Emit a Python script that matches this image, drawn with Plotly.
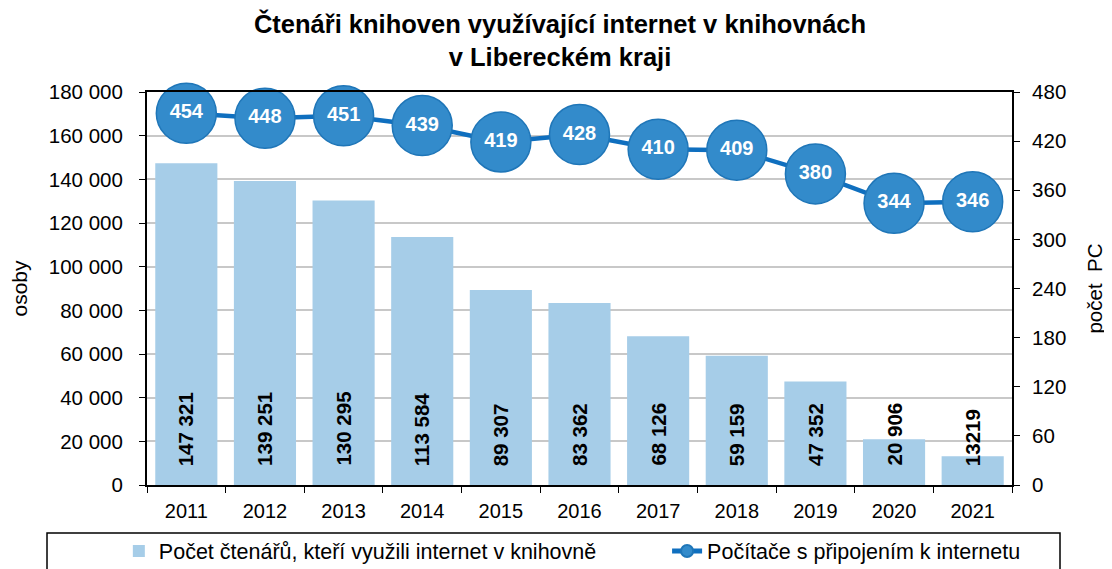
import plotly.graph_objects as go

years = ['2011', '2012', '2013', '2014', '2015', '2016', '2017', '2018', '2019', '2020', '2021']
readers = [147321, 139251, 130295, 113584, 89307, 83362, 68126, 59159, 47352, 20906, 13219]
reader_labels = ['147 321', '139 251', '130 295', '113 584', '89 307', '83 362',
                 '68 126', '59 159', '47 352', '20 906', '13219']
pcs = [454, 448, 451, 439, 419, 428, 410, 409, 380, 344, 346]

font_family = 'Liberation Sans, Arial, sans-serif'
xpos = list(range(len(years)))

fig = go.Figure()

fig.add_trace(go.Bar(
    x=xpos,
    y=readers,
    name='Počet čtenářů, kteří využili internet v knihovně',
    marker=dict(color='#a6cde8', line=dict(width=0)),
    width=0.79,
    yaxis='y',
    legend='legend',
))

fig.add_trace(go.Scatter(
    x=xpos,
    y=pcs,
    name='Počítače s připojením k internetu',
    mode='lines+markers+text',
    line=dict(color='#0f6fbf', width=4.5),
    marker=dict(size=60, color='#338bcb', line=dict(color='#1f76b8', width=1.5)),
    text=[str(v) for v in pcs],
    textposition='middle center',
    textfont=dict(color='white', size=20, family=font_family, weight='bold'),
    yaxis='y2',
    cliponaxis=False,
    legend='legend2',
))

# value labels at the bottom of each bar, rotated
for i, lab in zip(xpos, reader_labels):
    fig.add_annotation(
        x=i, y=7800, xref='x', yref='y',
        text='<b>' + lab + '</b>',
        textangle=-90,
        showarrow=False,
        yanchor='bottom',
        font=dict(size=20.5, color='black', family=font_family),
    )

# legend frame
fig.add_shape(type='rect', xref='paper', yref='paper',
              x0=-0.1156, x1=1.0555, y0=-0.122, y1=-0.24,
              line=dict(color='black', width=1.5), fillcolor='rgba(0,0,0,0)')

fig.update_layout(
    width=1104,
    height=561,
    margin=dict(l=139, r=100, t=84, b=84),
    paper_bgcolor='white',
    plot_bgcolor='white',
    separators=', ',
    font=dict(family=font_family, size=20, color='black'),
    title=dict(
        text='<b>Čtenáři knihoven využívající internet v knihovnách<br>v Libereckém kraji</b>',
        x=0.5, xanchor='center', xref='container',
        y=0.955, yanchor='middle', yref='container',
        font=dict(size=25.5),
    ),
    showlegend=True,
    legend=dict(
        orientation='h',
        x=0.1004, xanchor='left', xref='container',
        y=0.032, yanchor='middle', yref='container',
        font=dict(size=21.5),
        itemsizing='constant',
        bgcolor='rgba(0,0,0,0)',
    ),
    legend2=dict(
        orientation='h',
        x=0.597, xanchor='left', xref='container',
        y=0.032, yanchor='middle', yref='container',
        font=dict(size=21.5),
        itemsizing='constant',
        bgcolor='rgba(0,0,0,0)',
    ),
    xaxis=dict(
        range=[-0.5, len(years) - 0.5],
        tickvals=xpos,
        ticktext=years,
        ticks='',
        ticklabelstandoff=7,
        minor=dict(ticks='outside', tick0=0.5, dtick=1, ticklen=6, tickcolor='black', showgrid=False),
        showline=True, linecolor='black', linewidth=2,
        mirror=True,
        showgrid=False,
        zeroline=False,
        automargin=False,
        tickfont=dict(size=20),
    ),
    yaxis=dict(
        range=[0, 180000],
        dtick=20000,
        tickformat=',d',
        showline=True, linecolor='black', linewidth=2,
        ticks='outside', ticklen=6, tickcolor='black',
        ticklabelstandoff=12,
        showgrid=True, gridcolor='#c8c8c8', gridwidth=1.5,
        zeroline=False,
        automargin=False,
        title=dict(text='osoby', standoff=20, font=dict(size=21)),
        tickfont=dict(size=20.5),
    ),
    yaxis2=dict(
        range=[0, 480],
        dtick=60,
        overlaying='y',
        side='right',
        showline=True, linecolor='black', linewidth=2,
        ticks='outside', ticklen=6, tickcolor='black',
        ticklabelstandoff=8,
        showgrid=False,
        zeroline=False,
        automargin=False,
        title=dict(text='počet  PC', standoff=22, font=dict(size=20.5)),
        tickfont=dict(size=20.5),
    ),
)

fig.write_html('out.html')
